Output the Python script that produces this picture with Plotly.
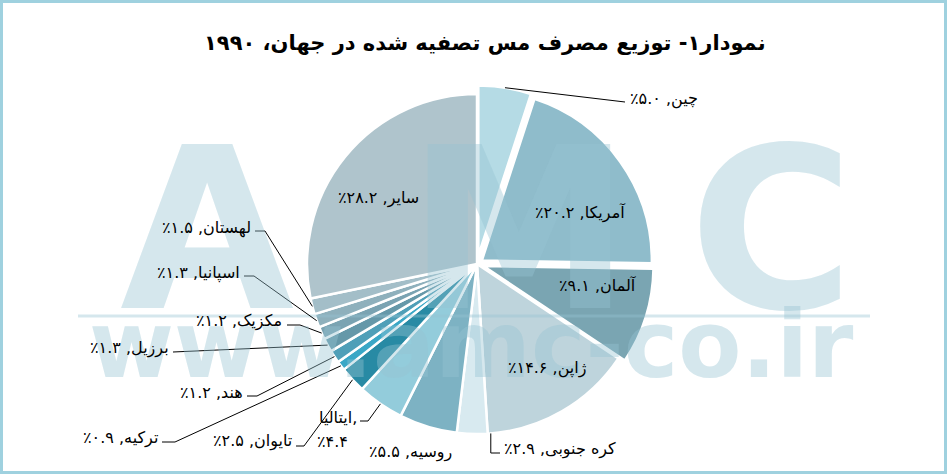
import math
import plotly.graph_objects as go

# ---------------- data ----------------
countries = ["چین", "آمریکا", "آلمان", "ژاپن", "کره جنوبی", "روسیه", "ایتالیا",
             "تایوان", "ترکیه", "هند", "برزیل", "مکزیک", "اسپانیا", "لهستان", "سایر"]
shares = [5.0, 20.2, 9.1, 14.6, 2.9, 5.5, 4.4, 2.5, 0.9, 1.2, 1.3, 1.2, 1.3, 1.5, 28.2]
title_text = "نمودار۱- توزیع مصرف مس تصفیه شده در جهان، ۱۹۹۰"
watermark_big = ["A", "M", "C"]
watermark_url = "www.amc-co.ir"

# ---------------- styles / layout ----------------
W, H = 947, 474
CX, CY, R = 477, 264, 170          # pie centre and radius in pixels
colors = ["#b5dbe5", "#8fbccb", "#7aa5b2", "#bed4dc", "#d8eaf0", "#7db2c3", "#93ccdb",
          "#288aa4", "#3aa7c6", "#4f9fb8", "#6598a9", "#7aa3b2", "#8eb0bc", "#a3bec8", "#afc4cc"]
pulls = [0.05, 0.035, 0.04, 0, 0, 0, 0, 0, 0, 0, 0, 0, 0, 0, 0]
WM = "rgba(150,195,210,0.4)"
FONT = "DejaVu Sans"

def px(x):
    return x / W

def py(y):
    return 1 - y / H

FA = str.maketrans("0123456789", "۰۱۲۳۴۵۶۷۸۹")

def fa(v):
    return f"{v:.1f}".translate(FA)

maxpull = max(pulls)
half = R * (1 + maxpull)
dom_x = [px(CX - half), px(CX + half)]
dom_y = [py(CY + half), py(CY - half)]

fig = go.Figure()
fig.add_trace(go.Pie(
    labels=countries, values=shares, sort=False, direction="clockwise", rotation=0,
    pull=pulls, textinfo="none", hoverinfo="label+percent",
    marker=dict(colors=colors, line=dict(color="white", width=2.5)),
    domain=dict(x=dom_x, y=dom_y), showlegend=False,
))

# slice geometry from the data (same rule plotly uses)
total = sum(shares)
geo = []
cum = 0.0
for v in shares:
    geo.append((cum / total * 360, (cum + v) / total * 360))
    cum += v

def tip(i, frac=0.5, rf=1.0):
    s, e = geo[i]
    mid = math.radians((s + e) / 2)
    a = math.radians(s + frac * (e - s))
    ox = pulls[i] * R * math.sin(mid)
    oy = -pulls[i] * R * math.cos(mid)
    return CX + ox + rf * R * math.sin(a), CY + oy - rf * R * math.cos(a)

annotations = []
shapes = []

# watermark (drawn first so that labels sit on top)
for letter, (x, y) in zip(watermark_big, [(207, 230), (519, 230), (771, 230)]):
    annotations.append(dict(text=letter, x=px(x), y=py(y), xref="paper", yref="paper",
                            showarrow=False, xanchor="center", yanchor="middle",
                            font=dict(family=FONT, size=225, color=WM, weight="bold")))
annotations.append(dict(text=watermark_url, x=px(471), y=py(345), xref="paper", yref="paper",
                        showarrow=False, xanchor="center", yanchor="middle",
                        font=dict(family=FONT, size=92, color=WM, weight="bold")))
shapes.append(dict(type="line", xref="paper", yref="paper", x0=px(78), x1=px(870),
                   y0=py(316), y1=py(316), line=dict(color=WM, width=3)))

# title
annotations.append(dict(text=title_text, x=px(485), y=py(43), xref="paper", yref="paper",
                        showarrow=False, xanchor="center", yanchor="middle",
                        font=dict(family=FONT, size=21, color="black", weight="bold")))

RLM = "\u200f"

def lab(i):
    return f"{countries[i]}, {fa(shares[i])}٪{RLM}"

LFS = 16
# inside labels: index -> centre position
inside = {14: (378, 198), 1: (580, 213), 2: (598, 285), 3: (547, 368)}
for i, (x, y) in inside.items():
    annotations.append(dict(text=lab(i), x=px(x), y=py(y), xref="paper", yref="paper",
                            showarrow=False, xanchor="center", yanchor="middle",
                            font=dict(family=FONT, size=LFS, color="black")))

# outside labels: index -> (label x, label y, xanchor, leader points after tip, tip frac)
outside = {
    0: (628, 99, "left", [(625, 102)], 0.5),
    4: (502, 449, "left", ["V", (500, 453)], -0.1),
    5: (410, 452, "center", None, 0.5),
    7: (294, 441, "right", [(304, 446), (296, 446)], 0.5),
    8: (160, 438, "right", [(175, 442), (162, 442)], 0.5),
    9: (245, 392, "right", [(257, 396), (247, 396)], 0.5),
    10: (171, 348, "right", [(173, 352)], 0.5),
    11: (284, 321, "right", [(300, 325), (287, 325)], 0.5),
    12: (242, 273, "right", [(254, 276), (244, 276)], 0.5),
    13: (253, 228, "right", [(265, 231), (255, 231)], 0.5),
}
for i, (x, y, xa, pts, fr) in outside.items():
    annotations.append(dict(text=lab(i), x=px(x), y=py(y), xref="paper", yref="paper",
                            showarrow=False, xanchor=xa, yanchor="middle",
                            font=dict(family=FONT, size=LFS, color="black")))
    if pts:
        tx, ty = tip(i, fr)
        path = f"M{px(tx)},{py(ty)}"
        for p in pts:
            if p == "V":
                path += f" L{px(tx)},{py(453)}"
            else:
                path += f" L{px(p[0])},{py(p[1])}"
        shapes.append(dict(type="path", xref="paper", yref="paper", path=path,
                           line=dict(color="black", width=1)))

# Italy label on two lines
annotations.append(dict(text=f"{countries[6]},", x=px(359), y=py(417), xref="paper", yref="paper",
                        showarrow=False, xanchor="right", yanchor="middle",
                        font=dict(family=FONT, size=LFS, color="black")))
annotations.append(dict(text=f"٪{fa(shares[6])}", x=px(350), y=py(441), xref="paper", yref="paper",
                        showarrow=False, xanchor="right", yanchor="middle",
                        font=dict(family=FONT, size=LFS, color="black")))
tx, ty = tip(6)
shapes.append(dict(type="path", xref="paper", yref="paper",
                   path=f"M{px(tx)},{py(ty)} L{px(368)},{py(421)} L{px(360)},{py(421)}",
                   line=dict(color="black", width=1)))

# frame
shapes.append(dict(type="rect", xref="paper", yref="paper", x0=px(1.5), x1=px(W - 1.5),
                   y0=py(H - 1.5), y1=py(1.5), line=dict(color="#9fd1df", width=3)))

fig.update_layout(width=W, height=H, margin=dict(l=0, r=0, t=0, b=0),
                  paper_bgcolor="white", plot_bgcolor="white",
                  annotations=annotations, shapes=shapes, showlegend=False)
fig.write_html("out.html", config={"displayModeBar": False},
               post_script="document.body.style.margin='0';document.body.style.overflow='hidden';")
